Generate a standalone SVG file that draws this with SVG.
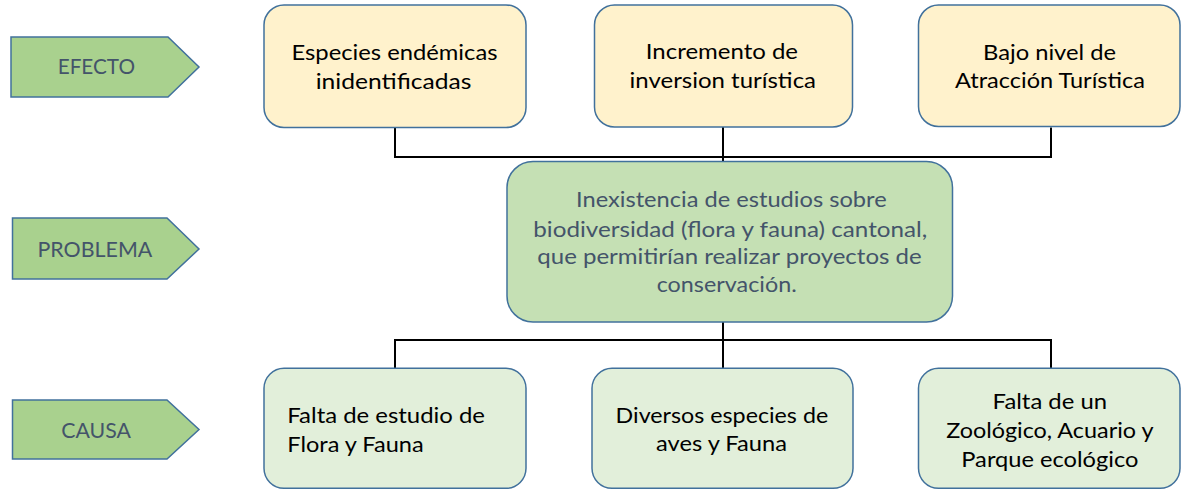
<svg xmlns="http://www.w3.org/2000/svg" width="1181" height="490" viewBox="0 0 1181 490">
<style>
.lbl{fill:#A9D18E;stroke:#41719C;stroke-width:1.5}
.eff{fill:#FFF2CC;stroke:#41719C;stroke-width:1.5}
.prob{fill:#C5E0B4;stroke:#41719C;stroke-width:1.5}
.cau{fill:#E2EFDA;stroke:#41719C;stroke-width:1.5}
text{font-family:Lato,"Open Sans","Liberation Sans",sans-serif;font-size:22px}
.dk{fill:#000000}
.sl{fill:#44546A}
.conn{fill:none;stroke:#000000;stroke-width:2}
</style>
<rect width="1181" height="490" fill="#FFFFFF"/>
<g id="connectors">
<path class="conn" d="M395,127.5V157H1051V127.5M723,127V162"/>
<path class="conn" d="M723,322V368M395,368V340H1051V368"/>
</g>
<g id="efecto">
<polygon class="lbl" points="11,37 168,37 199,67 168,97 11,97"/>
<text class="sl" x="57.7" y="74" textLength="77.3" lengthAdjust="spacingAndGlyphs">EFECTO</text>
</g>
<g id="problema">
<polygon class="lbl" points="12.5,218 167,218 199,249 167,279 12.5,279"/>
<text class="sl" x="37.5" y="256.7" textLength="114.8" lengthAdjust="spacingAndGlyphs">PROBLEMA</text>
</g>
<g id="causa">
<polygon class="lbl" points="12.5,400 167,400 199,429.5 167,459 12.5,459"/>
<text class="sl" x="61.2" y="438.3" textLength="69.7" lengthAdjust="spacingAndGlyphs">CAUSA</text>
</g>
<g id="efecto1">
<rect class="eff" x="264" y="5" width="262" height="122.5" rx="20"/>
<text class="dk" x="291.5" y="60" textLength="206" lengthAdjust="spacingAndGlyphs">Especies endémicas</text>
<text class="dk" x="315.7" y="89" textLength="155.8" lengthAdjust="spacingAndGlyphs">inidentificadas</text>
</g>
<g id="efecto2">
<rect class="eff" x="594.5" y="5" width="258" height="122" rx="20"/>
<text class="dk" x="645.8" y="59.3" textLength="152.2" lengthAdjust="spacingAndGlyphs">Incremento de</text>
<text class="dk" x="629.6" y="88" textLength="186.4" lengthAdjust="spacingAndGlyphs">inversion turística</text>
</g>
<g id="efecto3">
<rect class="eff" x="918.5" y="5" width="261.5" height="121.5" rx="20"/>
<text class="dk" x="983" y="59.5" textLength="133" lengthAdjust="spacingAndGlyphs">Bajo nivel de</text>
<text class="dk" x="955" y="87.5" textLength="190" lengthAdjust="spacingAndGlyphs">Atracción Turística</text>
</g>
<g id="problema-central">
<rect class="prob" x="507" y="161.5" width="445.5" height="160.5" rx="26"/>
<text class="sl" x="576" y="207.3" textLength="310.7" lengthAdjust="spacingAndGlyphs">Inexistencia de estudios sobre</text>
<text class="sl" x="533.3" y="236.7" textLength="394" lengthAdjust="spacingAndGlyphs">biodiversidad (flora y fauna) cantonal,</text>
<text class="sl" x="537.3" y="264.3" textLength="384.4" lengthAdjust="spacingAndGlyphs">que permitirían realizar proyectos de</text>
<text class="sl" x="656.7" y="292.3" textLength="140" lengthAdjust="spacingAndGlyphs">conservación.</text>
</g>
<g id="causa1">
<rect class="cau" x="264" y="368.3" width="262" height="120" rx="20"/>
<text class="dk" x="287.3" y="423.3" textLength="197.7" lengthAdjust="spacingAndGlyphs">Falta de estudio de</text>
<text class="dk" x="287.3" y="451.7" textLength="136.3" lengthAdjust="spacingAndGlyphs">Flora y Fauna</text>
</g>
<g id="causa2">
<rect class="cau" x="592" y="368.3" width="261" height="120" rx="20"/>
<text class="dk" x="615.6" y="423.3" textLength="212.6" lengthAdjust="spacingAndGlyphs">Diversos especies de</text>
<text class="dk" x="656" y="451" textLength="131" lengthAdjust="spacingAndGlyphs">aves y Fauna</text>
</g>
<g id="causa3">
<rect class="cau" x="918.5" y="368.3" width="261.5" height="120" rx="20"/>
<text class="dk" x="992.6" y="409.3" textLength="114.4" lengthAdjust="spacingAndGlyphs">Falta de un</text>
<text class="dk" x="946.2" y="438.3" textLength="207.3" lengthAdjust="spacingAndGlyphs">Zoológico, Acuario y</text>
<text class="dk" x="961.3" y="466.7" textLength="177.1" lengthAdjust="spacingAndGlyphs">Parque ecológico</text>
</g>
</svg>
